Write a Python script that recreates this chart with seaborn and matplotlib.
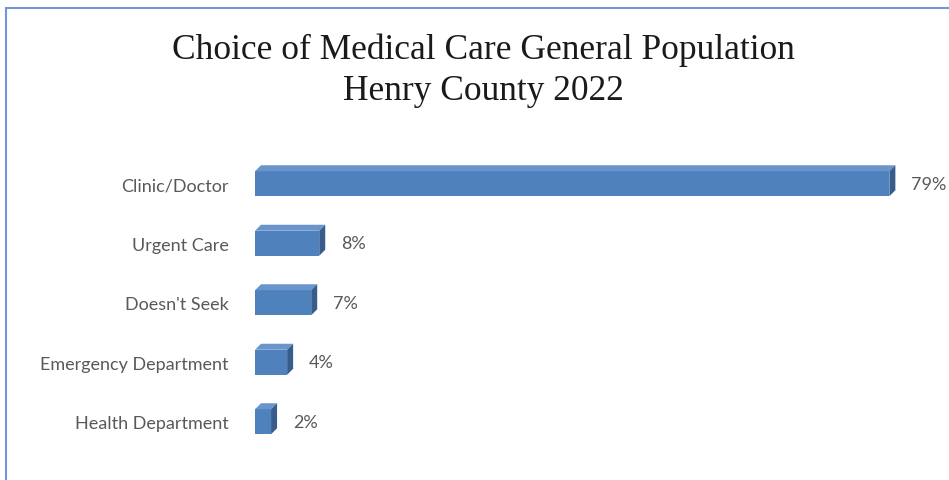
import matplotlib
matplotlib.use("Agg")
import matplotlib.pyplot as plt
import seaborn as sns
import pandas as pd
from matplotlib.patches import Polygon, Rectangle

categories = ["Clinic/Doctor", "Urgent Care", "Doesn't Seek", "Emergency Department", "Health Department"]
values = [79, 8, 7, 4, 2]
labels = ["79%", "8%", "7%", "4%", "2%"]

df = pd.DataFrame({"cat": categories, "val": values})

sns.set_theme(style="white")
plt.rcParams['font.family'] = ['Lato', 'DejaVu Sans']

W, H = 949, 481
fig = plt.figure(figsize=(W/100, H/100), dpi=100)

# axes placement in pixels
ax_l, ax_r = 255, 897.4
ax_t, ax_b = 155, 452.5
ax = fig.add_axes([ax_l/W, (H-ax_b)/H, (ax_r-ax_l)/W, (ax_b-ax_t)/H])

FRONT = "#4F81BD"
SIDE = "#385D8A"
TOP = "#6A95CC"

sns.barplot(data=df, x="val", y="cat", orient="h", color=FRONT, saturation=1,
            width=0.42, ax=ax, linewidth=0)
ax.set_xlim(0, 80)
ax.set_ylim(4.5, -0.5)
ax.set_xlabel("")
ax.set_ylabel("")
ax.set_xticks([])
for s in ax.spines.values():
    s.set_visible(False)
ax.tick_params(axis="y", length=0, pad=19, labelsize=13, labelcolor="#595959")

px_x = 80 / (ax_r - ax_l)
px_y = 5 / (ax_b - ax_t)
dx, dy = 6 * px_x, 6 * px_y

for bar, lab in zip(ax.patches, labels):
    x0 = bar.get_x()
    x1 = x0 + bar.get_width()
    yt = bar.get_y()               # smaller data y = top (inverted axis)
    yb = yt + bar.get_height()
    top = Polygon([(x0, yt), (x0 + dx, yt - dy), (x1 + dx, yt - dy), (x1, yt)],
                  closed=True, facecolor=TOP, edgecolor="none")
    side = Polygon([(x1, yt), (x1 + dx, yt - dy), (x1 + dx, yb - dy), (x1, yb)],
                   closed=True, facecolor=SIDE, edgecolor="none")
    ax.add_patch(top)
    ax.add_patch(side)
    ax.text(x1 + dx + 16 * px_x, (yt + yb) / 2, lab, va="center", ha="left",
            fontsize=13, color="#595959", clip_on=False)

fig.text(483/W, 1 - 71/H, "Choice of Medical Care General Population\nHenry County 2022",
         ha="center", va="center", fontsize=25.5, family=["Liberation Serif", "DejaVu Serif"],
         color="#1a1a1a", linespacing=1.32)

fig.patches.append(Rectangle((6/W, -0.05), 1.0, 1 - 9/H + 0.05, transform=fig.transFigure,
                             fill=False, edgecolor="#7396D6", linewidth=1.5))

fig.savefig("out.png", dpi=100)
